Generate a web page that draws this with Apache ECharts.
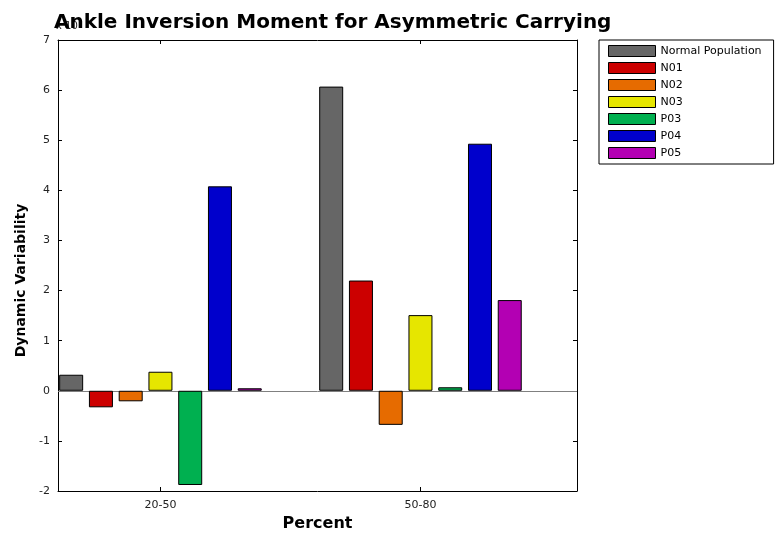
<!DOCTYPE html>
<html>
<head>
<meta charset="utf-8">
<script src="https://cdn.jsdelivr.net/npm/echarts@6/dist/echarts.min.js"></script>
<style>html,body{margin:0;padding:0;background:#fff}#c{width:775px;height:537px}</style>
</head>
<body>
<div id="c"></div>
<script>
var categories = ['20-50', '50-80'];
var categoryPos = [1, 2];
var seriesNames = ['Normal Population', 'N01', 'N02', 'N03', 'P03', 'P04', 'P05'];
var normalPop = [0.32, 6.07];
var n01 = [-0.33, 2.20];
var n02 = [-0.21, -0.68];
var n03 = [0.38, 1.51];
var p03 = [-1.88, 0.07];
var p04 = [4.08, 4.93];
var p05 = [0.05, 1.81];
var yTicks = [-2, -1, 0, 1, 2, 3, 4, 5, 6, 7];
var colors = ['#666666', '#cc0000', '#e66b00', '#e6e600', '#00b050', '#0000cc', '#b300b3'];

var allValues = [normalPop, n01, n02, n03, p03, p04, p05];
var font = '"DejaVu Sans", sans-serif';

var series = seriesNames.map(function (name, i) {
  var s = {
    name: name,
    type: 'bar',
    xAxisIndex: 0,
    yAxisIndex: 0,
    barWidth: 24,
    barGap: '24%',
    itemStyle: { color: colors[i], borderColor: '#000', borderWidth: 1 },
    data: allValues[i].map(function (v, k) { return [categoryPos[k], v]; })
  };
  if (i === 0) {
    s.markLine = {
      silent: true, symbol: 'none', label: { show: false },
      lineStyle: { color: '#808080', type: 'solid', width: 1 },
      data: [{ yAxis: 0 }], z: 1
    };
  }
  return s;
});

var chart = echarts.init(document.getElementById('c'), null, { renderer: 'canvas' });
chart.setOption({
  animation: false,
  backgroundColor: '#fff',
  textStyle: { fontFamily: font },
  title: {
    text: 'Ankle Inversion Moment for Asymmetric Carrying',
    left: 49, top: 8,
    textStyle: { fontFamily: font, fontWeight: 'bold', fontSize: 20, color: '#000' },
    z: 10
  },
  graphic: [
    { type: 'text', left: 56, top: 21, z: 0, style: { text: 'x 10', font: '10px "DejaVu Sans", sans-serif', fill: '#222' } }
  ],
  legend: {
    orient: 'vertical',
    left: 599, top: 40,
    itemWidth: 47, itemHeight: 11, itemGap: 5,
    padding: [5, 12, 5, 9],
    borderColor: '#000', borderWidth: 1,
    backgroundColor: '#fff',
    icon: 'rect',
    itemStyle: { borderColor: '#000', borderWidth: 1 },
    textStyle: { fontFamily: font, fontSize: 11, color: '#000' },
    data: seriesNames
  },
  grid: { left: 58, right: 198, top: 40, bottom: 44, show: false },
  xAxis: [
    {
      type: 'value', min: 0.606, max: 2.602, position: 'bottom',
      name: 'Percent', nameLocation: 'middle', nameGap: 25,
      nameTextStyle: { fontFamily: font, fontWeight: 'bold', fontSize: 16, color: '#000', padding: [0, 0, 0, 0] },
      axisLine: { show: true, onZero: false, lineStyle: { color: '#000', width: 1 } },
      axisTick: { show: true, inside: true, length: 4, customValues: categoryPos, lineStyle: { color: '#000' } },
      axisLabel: {
        show: true, customValues: categoryPos, margin: 9,
        fontFamily: font, fontSize: 11, color: '#222',
        formatter: function (v) { var k = categoryPos.indexOf(Math.round(v)); return k >= 0 ? categories[k] : ''; }
      },
      splitLine: { show: false }
    },
    {
      type: 'value', min: 0.606, max: 2.602, position: 'top',
      axisLine: { show: true, onZero: false, lineStyle: { color: '#000', width: 1 } },
      axisTick: { show: true, inside: true, length: 4, customValues: categoryPos, lineStyle: { color: '#000' } },
      axisLabel: { show: false },
      splitLine: { show: false }
    }
  ],
  yAxis: [
    {
      type: 'value', min: -2, max: 7, interval: 1, position: 'left',
      name: 'Dynamic Variability', nameLocation: 'middle', nameGap: 29,
      nameTextStyle: { fontFamily: font, fontWeight: 'bold', fontSize: 14, color: '#000', padding: [0, 0, 0, -30] },
      axisLine: { show: true, onZero: false, lineStyle: { color: '#000', width: 1 } },
      axisTick: { show: true, inside: true, length: 4, lineStyle: { color: '#000' } },
      axisLabel: {
        fontFamily: font, fontSize: 11, color: '#222', margin: 8,
        customValues: yTicks
      },
      splitLine: { show: false }
    },
    {
      type: 'value', min: -2, max: 7, interval: 1, position: 'right',
      axisLine: { show: true, onZero: false, lineStyle: { color: '#000', width: 1 } },
      axisTick: { show: true, inside: true, length: 4, lineStyle: { color: '#000' } },
      axisLabel: { show: false },
      splitLine: { show: false }
    }
  ],
  series: series
});
</script>
</body>
</html>
